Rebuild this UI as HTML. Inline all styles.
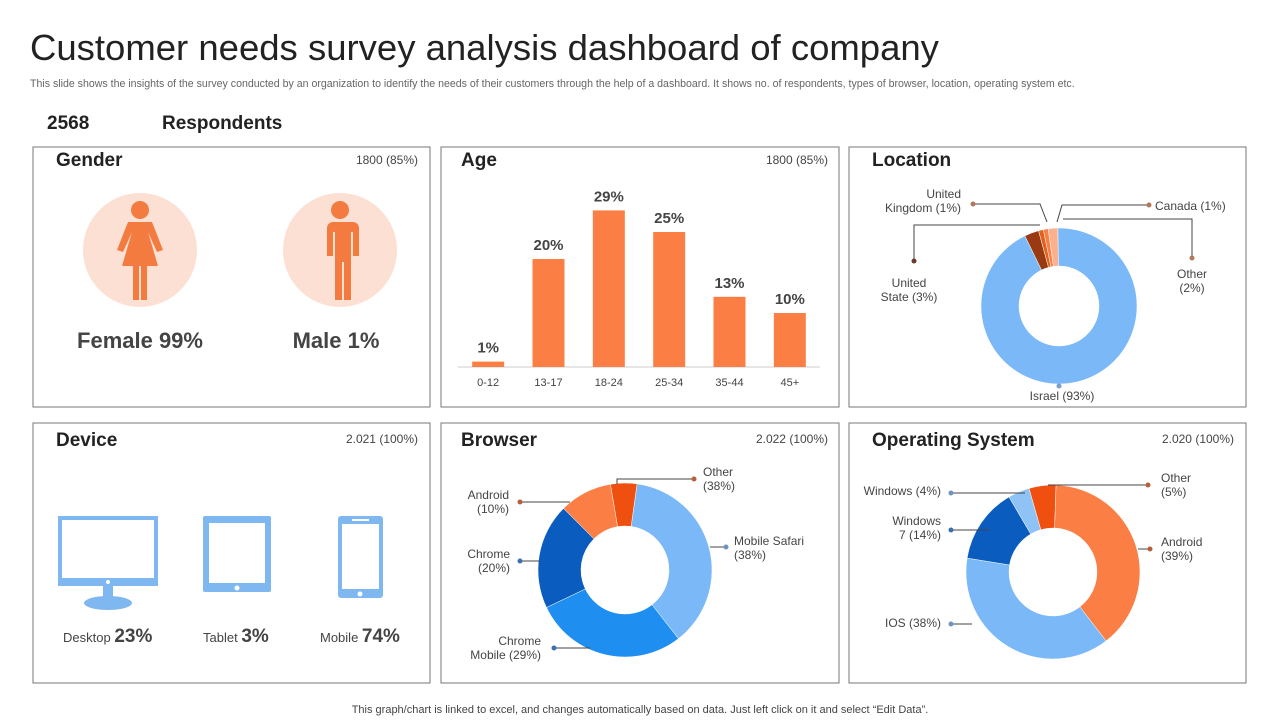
<!DOCTYPE html>
<html><head><meta charset="utf-8">
<style>
body{margin:0;width:1280px;height:720px;background:#fff;font-family:"Liberation Sans",Arial,sans-serif;overflow:hidden}
svg{position:absolute;left:0;top:0}
text{font-family:"Liberation Sans",Arial,sans-serif}
</style></head><body>
<svg id="s" width="1280" height="720" viewBox="0 0 1280 720">
<text x="30" y="60" font-size="36.5" fill="#222">Customer needs survey analysis dashboard of company</text>
<text x="30" y="87" font-size="10.6" fill="#666">This slide shows the insights of the survey conducted by an organization to identify the needs of their customers through the help of a dashboard. It shows no. of respondents, types of browser, location, operating system etc.</text>
<text x="47" y="129" font-size="19" font-weight="bold" fill="#222">2568</text>
<text x="162" y="129" font-size="19" font-weight="bold" fill="#222">Respondents</text>

<g fill="none" stroke="#777" stroke-width="1">
<rect x="33" y="147" width="397" height="260"/>
<rect x="441" y="147" width="398" height="260"/>
<rect x="849" y="147" width="397" height="260"/>
<rect x="33" y="423" width="397" height="260"/>
<rect x="441" y="423" width="398" height="260"/>
<rect x="849" y="423" width="397" height="260"/>
</g>
<g font-size="19" font-weight="bold" fill="#222">
<text x="56" y="166">Gender</text>
<text x="461" y="166">Age</text>
<text x="872" y="166">Location</text>
<text x="56" y="446">Device</text>
<text x="461" y="446">Browser</text>
<text x="872" y="446">Operating System</text>
</g>
<g font-size="12" fill="#444" text-anchor="end">
<text x="418" y="164">1800 (85%)</text>
<text x="828" y="164">1800 (85%)</text>
<text x="418" y="443">2.021 (100%)</text>
<text x="828" y="443">2.022 (100%)</text>
<text x="1234" y="443">2.020 (100%)</text>
</g>

<g>
<circle cx="140" cy="250" r="57" fill="#fde0d4"/>
<g fill="#f47b3f"><circle cx="140" cy="210" r="9"/>
<path d="M128 222 h24 l11 28 -6 2 -9 -20 10 34 h-11 v34 h-6 v-34 h-2 v34 h-6 v-34 h-11 l10 -34 -9 20 -6 -2z"/></g>
</g>
<g>
<circle cx="340" cy="250" r="57" fill="#fde0d4"/>
<g fill="#f47b3f"><circle cx="340" cy="210" r="9"/>
<path d="M327 222 h26 a6 6 0 0 1 6 6 v28 h-6 v-24 h-2 v68 h-7 v-38 h-2 v38 h-7 v-68 h-2 v24 h-6 v-28 a6 6 0 0 1 6 -6z"/></g>
</g>
<text x="140" y="348" font-size="22" font-weight="bold" fill="#444" text-anchor="middle">Female 99%</text>
<text x="336" y="348" font-size="22" font-weight="bold" fill="#444" text-anchor="middle">Male 1%</text>

<g fill="#7fb8f0">
<rect x="58" y="516" width="100" height="70"/><rect x="62" y="520" width="92" height="58" fill="#fff"/>
<circle cx="108" cy="582" r="2" fill="#fff"/><rect x="103" y="586" width="10" height="14"/><ellipse cx="108" cy="603" rx="24" ry="7"/>
</g>
<g fill="#7fb8f0">
<rect x="203" y="516" width="68" height="76" rx="2"/><rect x="209" y="523" width="56" height="60" fill="#fff"/><circle cx="237" cy="588" r="2.5" fill="#fff"/>
</g>
<g fill="#7fb8f0">
<rect x="338" y="516" width="45" height="82" rx="3"/><rect x="342" y="524" width="37" height="65" fill="#fff"/><rect x="352" y="519" width="17" height="2" fill="#fff"/><circle cx="360" cy="594" r="2.5" fill="#fff"/>
</g>
<g fill="#444">
<text x="63" y="642" font-size="13">Desktop <tspan font-size="19" font-weight="bold">23%</tspan></text>
<text x="203" y="642" font-size="13">Tablet <tspan font-size="19" font-weight="bold">3%</tspan></text>
<text x="320" y="642" font-size="13">Mobile <tspan font-size="19" font-weight="bold">74%</tspan></text>
</g>

<g id="age"></g><g id="loc"></g><g id="brw"></g><g id="os"></g>
<text x="640" y="713" font-size="11" fill="#444" text-anchor="middle">This graph/chart is linked to excel,  and changes automatically based on data. Just left click on it and select “Edit Data”.</text>
</svg>
<script>
const ageCats=["0-12","13-17","18-24","25-34","35-44","45+"];
const ageVals=[1,20,29,25,13,10];
const locLabels=["United State (3%)","United Kingdom (1%)","Canada (1%)","Other (2%)","Israel (93%)"];
const locVals=[3,1,1,2,93];
const brwLabels=["Mobile Safari (38%)","Chrome Mobile (29%)","Chrome (20%)","Android (10%)","Other (38%)"];
const brwVals=[38,29,20,10,5];
const osLabels=["Android (39%)","IOS (38%)","Windows 7 (14%)","Windows (4%)","Other (5%)"];
const osVals=[39,38,14,4,5];
const NS="http://www.w3.org/2000/svg";
function mk(p,t,a){const e=document.createElementNS(NS,t);for(const k in a)e.setAttribute(k,a[k]);p.appendChild(e);return e;}
const ag=document.getElementById('age');
const base=367,pxPer=5.4,x0=458,x1=820,bw=(x1-x0)/ageCats.length;
mk(ag,'line',{x1:x0,x2:x1,y1:base,y2:base,stroke:'#ccc'});
ageCats.forEach((c,i)=>{
 const cx=x0+bw*(i+0.5),h=ageVals[i]*pxPer;
 const r=mk(ag,'rect',{x:cx-16,y:base-h,width:32,height:h,fill:'#fb7f45'});
 
 
 const v=mk(ag,'text',{x:cx,y:base-h-9,'font-size':15,'font-weight':'bold',fill:'#444','text-anchor':'middle'});v.textContent=ageVals[i]+'%';
 
 
 const t=mk(ag,'text',{x:cx,y:386,'font-size':11,fill:'#444','text-anchor':'middle'});t.textContent=c;
 
 
});
function donut(g,cx,cy,R,r,vals,cols,startDeg,name){
 const tot=vals.reduce((a,b)=>a+b,0);let a=startDeg*Math.PI/180;
 vals.forEach((v,i)=>{
  const a2=a+v/tot*2*Math.PI,lg=(a2-a)>Math.PI?1:0;
  const p=(rr,an)=>[cx+rr*Math.sin(an),cy-rr*Math.cos(an)];
  const [x1,y1]=p(R,a),[x2,y2]=p(R,a2),[x3,y3]=p(r,a2),[x4,y4]=p(r,a);
  const s=mk(g,'path',{d:`M${x1} ${y1}A${R} ${R} 0 ${lg} 1 ${x2} ${y2}L${x3} ${y3}A${r} ${r} 0 ${lg} 0 ${x4} ${y4}Z`,fill:cols[i],stroke:'#fff','stroke-width':0.5});
  
  
  a=a2;});
}
function label(g,lines,x,y,anchor,dot,pts,col){
 mk(g,'polyline',{points:pts,fill:'none',stroke:'#444','stroke-width':1});
 mk(g,'circle',{cx:dot[0],cy:dot[1],r:2.5,fill:col});
 lines.forEach((l,i)=>{const t=mk(g,'text',{x:x,y:y+i*14,'font-size':12,fill:'#444','text-anchor':anchor});t.textContent=l;
 
 });
}
const lg=document.getElementById('loc');
donut(lg,1059,306,78,40,locVals,['#9a3a12','#e2611d','#fb7f45','#fbb08e','#7ab8f7'],-26,'location');
label(lg,['United','Kingdom (1%)'],961,198,'end',[973,204],'973,204 1040,204 1047,222','#b07a5a');
label(lg,['Canada (1%)'],1155,210,'start',[1149,205],'1149,205 1062,205 1057,222','#b07a5a');
label(lg,['United','State (3%)'],909,287,'middle',[914,261],'914,261 914,225 1040,225','#6b3a2a');
label(lg,['Other','(2%)'],1192,278,'middle',[1192,258],'1192,258 1192,219 1063,219','#b07a5a');
label(lg,['Israel (93%)'],1062,400,'middle',[1059,386],'1059,386 1059,384','#7aa0cf');
const bg=document.getElementById('brw');
donut(bg,625,570,87,44,brwVals,['#7ab8f7','#1f8ef1','#0b5cbf','#fb7f45','#f0500f'],8,'browser');
label(bg,['Other','(38%)'],703,476,'start',[694,479],'694,479 617,479 617,484','#b5603a');
label(bg,['Android','(10%)'],509,499,'end',[520,502],'520,502 570,502','#b5603a');
label(bg,['Mobile Safari','(38%)'],734,545,'start',[726,547],'726,547 710,547','#6f94c0');
label(bg,['Chrome','(20%)'],510,558,'end',[520,561],'520,561 540,561','#3c6fb0');
label(bg,['Chrome','Mobile (29%)'],541,645,'end',[554,648],'554,648 590,648','#3c6fb0');
const og=document.getElementById('os');
donut(og,1053,572,87,44,osVals,['#fb7f45','#7ab8f7','#0b5cbf','#8fc3f5','#f0500f'],2,'os');
label(og,['Other','(5%)'],1161,482,'start',[1148,485],'1148,485 1048,485','#b5603a');
label(og,['Windows (4%)'],941,495,'end',[951,493],'951,493 1025,493','#6f94c0');
label(og,['Windows','7 (14%)'],941,525,'end',[951,530],'951,530 990,530','#3c6fb0');
label(og,['Android','(39%)'],1161,546,'start',[1150,549],'1150,549 1138,549','#b5603a');
label(og,['IOS (38%)'],941,627,'end',[951,624],'951,624 972,624','#6f94c0');
</script>
</body></html>
